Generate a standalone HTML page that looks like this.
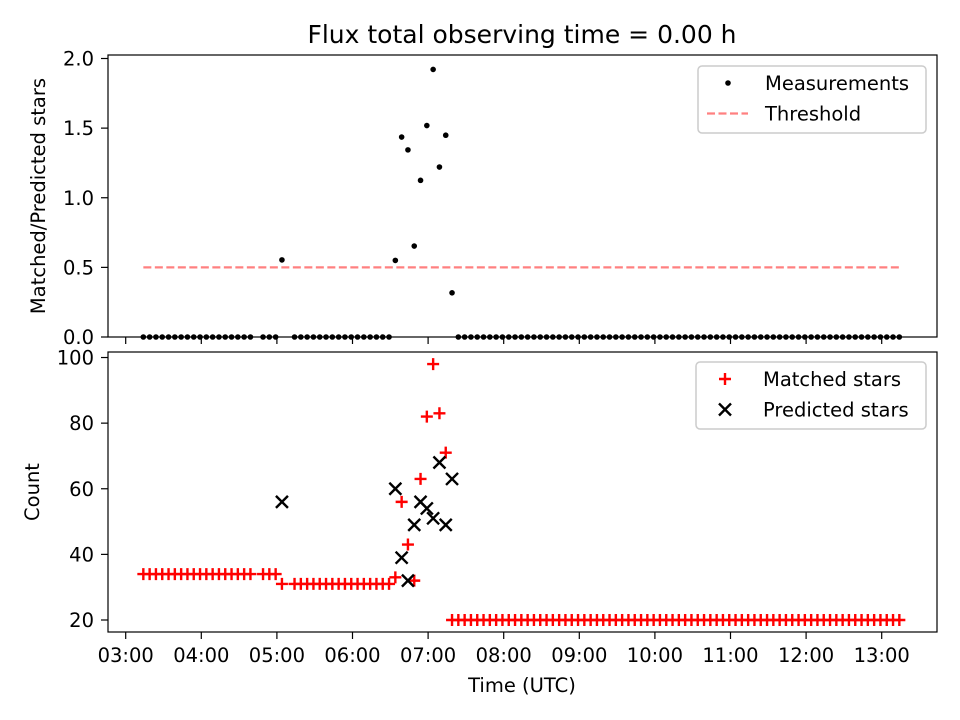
<!DOCTYPE html>
<html><head><meta charset="utf-8"><style>body{margin:0;background:#fff}svg{display:block;font-family:"DejaVu Sans","Liberation Sans",sans-serif}</style></head>
<body>
<svg id="chart" width="960" height="720" viewBox="0 0 960 720" xmlns="http://www.w3.org/2000/svg"></svg>
<script>
const startMinutes = 3*60+14;
const cadenceMinutes = 5;
const matched = [34,34,34,34,34,34,34,34,34,34,34,34,34,34,34,34,34,34,null,34,34,34,31,null,
31,31,31,31,31,31,31,31,31,31,31,31,31,31,31,31,
33,56,43,32,63,82,98,83,71,20,
20,20,20,20,20,20,20,20,20,20,20,20,20,20,20,20,20,20,20,20,20,20,20,20,20,20,20,20,20,20,20,20,20,20,20,20,20,20,20,20,20,20,20,20,20,20,20,20,20,20,20,20,20,20,20,20,20,20,20,20,20,20,20,20,20,20,20,20,20,20,20];
const predicted = {22:56,40:60,41:39,42:32,43:49,44:56,45:54,46:51,47:68,48:49,49:63};
const threshold = 0.5;
const xTickLabels = ["03:00","04:00","05:00","06:00","07:00","08:00","09:00","10:00","11:00","12:00","13:00"];
const topTicks = [0,0.5,1.0,1.5,2.0];
const botTicks = [20,40,60,80,100];

const NS="http://www.w3.org/2000/svg";
const svg=document.getElementById('chart');
function mk(tag,attrs,parent){const e=document.createElementNS(NS,tag);for(const k in attrs)e.setAttribute(k,attrs[k]);(parent||svg).appendChild(e);return e;}
const L=108,R=937,T1=55,B1=337,T2=352,B2=632;
const FS=19.5;
const xS=h=>125.7+(h-3)*75.6;
const yTop=v=>337-v*139.25;
const yBot=v=>620-(v-20)*3.281;
const tOf=i=>(startMinutes+i*cadenceMinutes)/60;

let t=mk('text',{x:522,y:43,'text-anchor':'middle','font-size':'25'});t.textContent='Flux total observing time = 0.00 h';

t=mk('text',{x:0,y:0,'text-anchor':'middle','font-size':FS,transform:'translate(45,196) rotate(-90)'});t.textContent='Matched/Predicted stars';

t=mk('text',{x:0,y:0,'text-anchor':'middle','font-size':FS,transform:'translate(39,492) rotate(-90)'});t.textContent='Count';

t=mk('text',{x:522,y:692,'text-anchor':'middle','font-size':FS});t.textContent='Time (UTC)';


xTickLabels.forEach((lab,k)=>{const x=xS(3+k);
 let l=mk('line',{x1:x,x2:x,y1:B1,y2:B1+7,stroke:'#000','stroke-width':1.2});
 l=mk('line',{x1:x,x2:x,y1:B2,y2:B2+7,stroke:'#000','stroke-width':1.2});
 const tx=mk('text',{x:x,y:B2+30,'text-anchor':'middle','font-size':FS});tx.textContent=lab;
 });
topTicks.forEach(v=>{const y=yTop(v);
 const l=mk('line',{x1:L-7,x2:L,y1:y,y2:y,stroke:'#000','stroke-width':1.2});
 const tx=mk('text',{x:L-14,y:y+7,'text-anchor':'end','font-size':FS});tx.textContent=v.toFixed(1);
 });
botTicks.forEach(v=>{const y=yBot(v);
 const l=mk('line',{x1:L-7,x2:L,y1:y,y2:y,stroke:'#000','stroke-width':1.2});
 const tx=mk('text',{x:L-14,y:y+7,'text-anchor':'end','font-size':FS});tx.textContent=String(v);
 });

const defs=mk('defs',{});
const c1=mk('clipPath',{id:'c1'},defs);mk('rect',{x:L-4,y:T1,width:R-L+8,height:B1-T1+4},c1);
const c2=mk('clipPath',{id:'c2'},defs);mk('rect',{x:L,y:T2,width:R-L,height:B2-T2},c2);
const g1=mk('g',{'clip-path':'url(#c1)'});
const g2=mk('g',{'clip-path':'url(#c2)'});

const n=matched.length;
let th=mk('line',{x1:xS(tOf(0)),x2:xS(tOf(n-1)),y1:yTop(threshold),y2:yTop(threshold),stroke:'#ff8080','stroke-width':2.2,'stroke-dasharray':'8,3.5'},g1);


for(let i=0;i<n;i++){ if(matched[i]===null)continue;
 const p=predicted[i]||0; const r=p>0?matched[i]/p:0;
 const d=mk('circle',{cx:xS(tOf(i)),cy:yTop(r),r:2.8,fill:'#000'},g1);
 }

for(let i=0;i<n;i++){ if(matched[i]===null)continue;
 const x=xS(tOf(i)),y=yBot(matched[i]);
 const pth=mk('path',{d:`M${x-6},${y}H${x+6}M${x},${y-6}V${y+6}`,stroke:'#ff0000','stroke-width':2.4,fill:'none'},g2);
 }
for(const k in predicted){const i=+k;const x=xS(tOf(i)),y=yBot(predicted[k]);
 const pth=mk('path',{d:`M${x-6},${y-6}L${x+6},${y+6}M${x-6},${y+6}L${x+6},${y-6}`,stroke:'#000','stroke-width':2.4,fill:'none'},g2);
 }

let f=mk('rect',{x:L,y:T1,width:R-L,height:B1-T1,fill:'none',stroke:'#000','stroke-width':1.2});
f=mk('rect',{x:L,y:T2,width:R-L,height:B2-T2,fill:'none',stroke:'#000','stroke-width':1.2});

function legend(x,y,w,h,name,items,tx0){const g=mk('g',{});
 mk('rect',{x:x,y:y,width:w,height:h,rx:4,fill:'#fff','fill-opacity':0.8,stroke:'#ccc','stroke-width':1.5},g);
 items.forEach((it,k)=>{const cy=y+17+k*30.5;it.draw(g,cy);
  const tx=mk('text',{x:tx0,y:cy+7,'font-size':FS},g);tx.textContent=it.label;
  });}
legend(698,66,228,67,'top-legend',[
 {label:'Measurements',draw:(g,y)=>mk('circle',{cx:728,cy:y,r:2.8,fill:'#000'},g)},
 {label:'Threshold',draw:(g,y)=>mk('line',{x1:707,x2:748,y1:y,y2:y,stroke:'#ff8080','stroke-width':2.2,'stroke-dasharray':'8,3.5'},g)}],765);
legend(696,362,230,67,'bottom-legend',[
 {label:'Matched stars',draw:(g,y)=>mk('path',{d:`M719,${y}H731M725,${y-6}V${y+6}`,stroke:'#f00','stroke-width':2.4},g)},
 {label:'Predicted stars',draw:(g,y)=>mk('path',{d:`M719,${y-6}L731,${y+6}M719,${y+6}L731,${y-6}`,stroke:'#000','stroke-width':2.4},g)}],763);
</script>
</body></html>
